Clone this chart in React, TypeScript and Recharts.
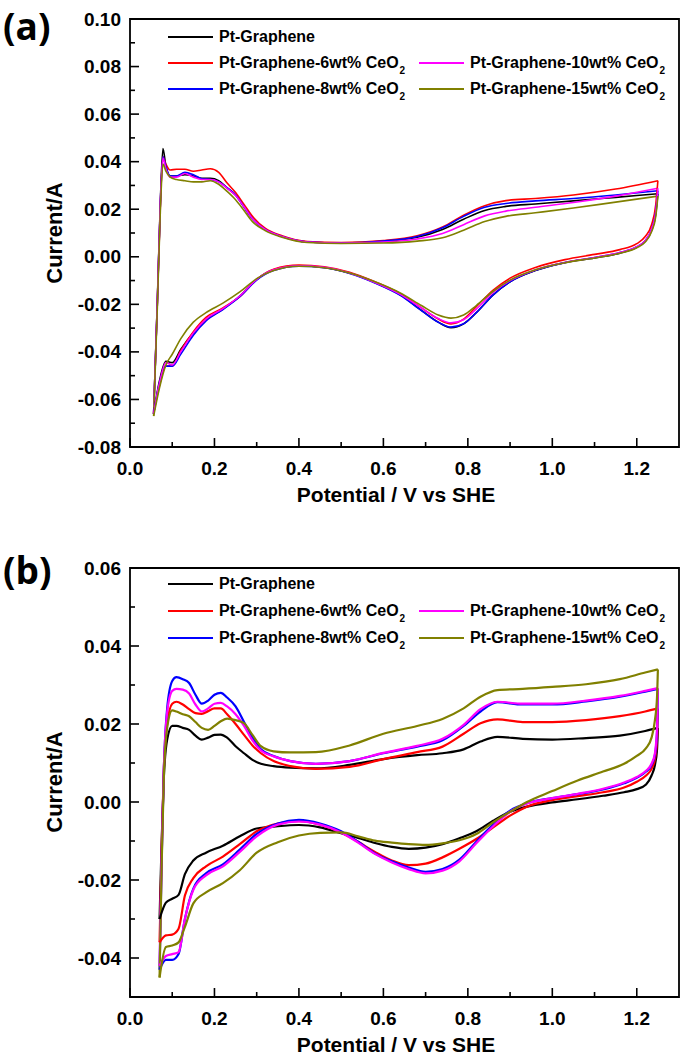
import { LineChart, Line, XAxis, YAxis, ReferenceArea } from "recharts";

const FONT = '"Liberation Sans", Arial, Helvetica, sans-serif';

// axis ticks
const X_MAJOR = [0, 0.2, 0.4, 0.6, 0.8, 1.0, 1.2];
const X_MINOR = [0.1, 0.3, 0.5, 0.7, 0.9, 1.1];
const A_Y_MAJOR = [-0.08, -0.06, -0.04, -0.02, 0, 0.02, 0.04, 0.06, 0.08, 0.1];
const A_Y_MINOR = [-0.07, -0.05, -0.03, -0.01, 0.01, 0.03, 0.05, 0.07, 0.09];
const B_Y_MAJOR = [-0.04, -0.02, 0, 0.02, 0.04, 0.06];
const B_Y_MINOR = [-0.03, -0.01, 0.01, 0.03, 0.05];

const NAMES = [
  "Pt-Graphene",
  "Pt-Graphene-6wt% CeO",
  "Pt-Graphene-8wt% CeO",
  "Pt-Graphene-10wt% CeO",
  "Pt-Graphene-15wt% CeO",
];
const COLORS = ["#000000", "#ff0000", "#0000ff", "#ff00ff", "#808000"];

// ---- panel (a): anodic sweep potentials (V) ----
const A_V_FWD = [0.056, 0.065, 0.072, 0.078, 0.085, 0.095, 0.11, 0.13, 0.15, 0.17, 0.19, 0.21, 0.23, 0.25, 0.27, 0.29, 0.32, 0.36, 0.42, 0.5, 0.6, 0.68, 0.74, 0.79, 0.84, 0.89, 0.96, 1.05, 1.15, 1.25];
const A_PT_FWD = [-0.066, -0.017, 0.024, 0.0455, 0.038, 0.034, 0.034, 0.0345, 0.034, 0.033, 0.033, 0.032, 0.029, 0.026, 0.021, 0.016, 0.0115, 0.0085, 0.0062, 0.0058, 0.0065, 0.0082, 0.0115, 0.0158, 0.0195, 0.0212, 0.0222, 0.0235, 0.025, 0.0265];
const A_6_FWD = [-0.066, -0.018, 0.022, 0.042, 0.039, 0.0365, 0.0368, 0.0368, 0.036, 0.0365, 0.037, 0.0355, 0.031, 0.027, 0.022, 0.017, 0.012, 0.0088, 0.0064, 0.006, 0.0068, 0.0088, 0.0125, 0.0175, 0.0215, 0.0236, 0.0245, 0.026, 0.0285, 0.032];
const A_8_FWD = [-0.066, -0.018, 0.023, 0.042, 0.038, 0.034, 0.034, 0.0355, 0.0345, 0.0328, 0.0325, 0.0315, 0.029, 0.026, 0.021, 0.016, 0.0115, 0.0085, 0.0062, 0.0058, 0.0066, 0.0085, 0.0122, 0.017, 0.0208, 0.0224, 0.0235, 0.0245, 0.026, 0.0278];
const A_10_FWD = [-0.066, -0.018, 0.023, 0.0415, 0.037, 0.0335, 0.0335, 0.035, 0.0335, 0.0325, 0.0325, 0.0315, 0.0288, 0.0258, 0.021, 0.016, 0.0115, 0.0085, 0.0062, 0.0058, 0.0062, 0.0075, 0.0098, 0.0135, 0.0172, 0.0192, 0.0208, 0.0228, 0.0255, 0.0288];
const A_15_FWD = [-0.067, -0.02, 0.02, 0.039, 0.036, 0.0335, 0.0325, 0.032, 0.0315, 0.0315, 0.032, 0.0305, 0.0275, 0.024, 0.0195, 0.0148, 0.011, 0.0082, 0.006, 0.0056, 0.0058, 0.0066, 0.008, 0.0112, 0.0148, 0.017, 0.0185, 0.0205, 0.023, 0.0255];

// ---- panel (a): cathodic sweep ----
const A_V_BWD = [1.25, 1.245, 1.235, 1.22, 1.2, 1.16, 1.1, 1.03, 0.96, 0.9, 0.86, 0.82, 0.79, 0.76, 0.73, 0.69, 0.64, 0.58, 0.52, 0.46, 0.4, 0.34, 0.3, 0.26, 0.22, 0.18, 0.15, 0.12, 0.1, 0.085, 0.07, 0.056];
const A_PT_BWD = [0.0265, 0.018, 0.011, 0.0065, 0.004, 0.0015, -0.0005, -0.0025, -0.0058, -0.0105, -0.016, -0.0235, -0.0282, -0.0298, -0.0275, -0.0225, -0.016, -0.0108, -0.0068, -0.0045, -0.0038, -0.0055, -0.0095, -0.0165, -0.022, -0.0265, -0.032, -0.039, -0.0445, -0.044, -0.052, -0.066];
const A_6_BWD = [0.032, 0.022, 0.0135, 0.0085, 0.0055, 0.003, 0.001, -0.0012, -0.0045, -0.009, -0.014, -0.021, -0.0262, -0.0282, -0.0262, -0.0215, -0.0155, -0.0105, -0.0065, -0.0042, -0.0035, -0.0052, -0.0095, -0.0168, -0.0215, -0.0255, -0.0315, -0.0395, -0.046, -0.046, -0.054, -0.066];
const A_8_BWD = [0.0278, 0.019, 0.0115, 0.0068, 0.0042, 0.0018, -0.0003, -0.0024, -0.0057, -0.0105, -0.016, -0.0235, -0.0282, -0.0296, -0.0275, -0.0226, -0.0162, -0.011, -0.007, -0.0046, -0.004, -0.0058, -0.0098, -0.0168, -0.0222, -0.027, -0.033, -0.041, -0.046, -0.046, -0.053, -0.066];
const A_10_BWD = [0.0288, 0.019, 0.0115, 0.0068, 0.0042, 0.0018, -0.0003, -0.0024, -0.0055, -0.01, -0.015, -0.022, -0.0265, -0.0278, -0.026, -0.0215, -0.0158, -0.0108, -0.0068, -0.0044, -0.0038, -0.0055, -0.0095, -0.0165, -0.0218, -0.0262, -0.032, -0.04, -0.0455, -0.0445, -0.053, -0.066];
const A_15_BWD = [0.0255, 0.017, 0.0105, 0.0062, 0.0038, 0.0015, -0.0005, -0.0025, -0.0055, -0.0098, -0.0145, -0.0205, -0.0245, -0.0258, -0.0245, -0.0205, -0.0152, -0.0105, -0.0068, -0.0046, -0.004, -0.0058, -0.0092, -0.0148, -0.0195, -0.0235, -0.0275, -0.0345, -0.041, -0.0455, -0.055, -0.067];

// ---- panel (b): anodic sweep ----
const B_V_FWD = [0.07, 0.075, 0.08, 0.088, 0.1, 0.11, 0.125, 0.14, 0.155, 0.17, 0.185, 0.2, 0.215, 0.23, 0.25, 0.27, 0.29, 0.31, 0.34, 0.38, 0.44, 0.52, 0.6, 0.68, 0.74, 0.79, 0.83, 0.87, 0.93, 1.0, 1.08, 1.16, 1.22, 1.25];
const B_PT_FWD = [-0.03, -0.01, 0.006, 0.016, 0.0195, 0.0195, 0.019, 0.0185, 0.017, 0.016, 0.0165, 0.0172, 0.0173, 0.0165, 0.0143, 0.0125, 0.0108, 0.0098, 0.0092, 0.0088, 0.0086, 0.0095, 0.011, 0.012, 0.0125, 0.0135, 0.0155, 0.0167, 0.0162, 0.016, 0.0164, 0.017, 0.0182, 0.019];
const B_6_FWD = [-0.036, -0.012, 0.008, 0.02, 0.0252, 0.0257, 0.025, 0.0238, 0.0228, 0.0226, 0.0233, 0.024, 0.024, 0.0225, 0.02, 0.0172, 0.0145, 0.0125, 0.0105, 0.0092, 0.0085, 0.009, 0.011, 0.0128, 0.0142, 0.0175, 0.0202, 0.0212, 0.0205, 0.0205, 0.021, 0.022, 0.0232, 0.024];
const B_8_FWD = [-0.043, -0.015, 0.008, 0.024, 0.031, 0.032, 0.0315, 0.0305, 0.0275, 0.0252, 0.026, 0.0275, 0.028, 0.0268, 0.0245, 0.0205, 0.0165, 0.0135, 0.0118, 0.0105, 0.0098, 0.0105, 0.0125, 0.0142, 0.0158, 0.0195, 0.0232, 0.0256, 0.025, 0.025, 0.0258, 0.027, 0.0283, 0.029];
const B_10_FWD = [-0.042, -0.014, 0.008, 0.023, 0.0285, 0.029, 0.0288, 0.0278, 0.025, 0.0232, 0.024, 0.0252, 0.0254, 0.0245, 0.0225, 0.0195, 0.0158, 0.0132, 0.0117, 0.0105, 0.0098, 0.0105, 0.0126, 0.0144, 0.0162, 0.0198, 0.0238, 0.0257, 0.0252, 0.0252, 0.026, 0.0272, 0.0285, 0.0292];
const B_15_FWD = [-0.045, -0.016, 0.006, 0.019, 0.0235, 0.0232, 0.0225, 0.022, 0.0205, 0.019, 0.0185, 0.0195, 0.0207, 0.0214, 0.021, 0.0202, 0.0172, 0.0143, 0.013, 0.0127, 0.0128, 0.0145, 0.0175, 0.0195, 0.0213, 0.024, 0.027, 0.0287, 0.029, 0.0295, 0.0302, 0.0315, 0.0332, 0.034];

// ---- panel (b): cathodic sweep ----
const B_V_BWD = [1.25, 1.248, 1.243, 1.235, 1.222, 1.2, 1.17, 1.12, 1.06, 1.0, 0.94, 0.9, 0.86, 0.82, 0.78, 0.74, 0.7, 0.66, 0.62, 0.58, 0.54, 0.5, 0.45, 0.4, 0.35, 0.3, 0.26, 0.22, 0.18, 0.15, 0.13, 0.115, 0.1, 0.085, 0.07];
const B_PT_BWD = [0.019, 0.0135, 0.0095, 0.0068, 0.0045, 0.0033, 0.0025, 0.0016, 0.0007, -0.0001, -0.0012, -0.0025, -0.0048, -0.0075, -0.0093, -0.0108, -0.0117, -0.012, -0.0115, -0.0105, -0.0092, -0.008, -0.0065, -0.0059, -0.0062, -0.0068, -0.0088, -0.0112, -0.013, -0.015, -0.0185, -0.0238, -0.0248, -0.0258, -0.03];
const B_6_BWD = [0.024, 0.016, 0.011, 0.0085, 0.0068, 0.0052, 0.0037, 0.0025, 0.0015, 0.0005, -0.0012, -0.0035, -0.0065, -0.0095, -0.012, -0.0142, -0.0158, -0.0162, -0.015, -0.0128, -0.0102, -0.0078, -0.0058, -0.0049, -0.0055, -0.0075, -0.0108, -0.014, -0.0165, -0.0195, -0.024, -0.0325, -0.034, -0.0342, -0.036];
const B_8_BWD = [0.029, 0.018, 0.012, 0.0095, 0.0078, 0.0062, 0.0048, 0.0032, 0.002, 0.001, -0.0003, -0.0022, -0.0058, -0.0102, -0.0148, -0.0172, -0.0179, -0.0168, -0.0152, -0.0132, -0.0102, -0.0075, -0.0055, -0.0046, -0.0055, -0.0082, -0.0122, -0.016, -0.0183, -0.0222, -0.03, -0.039, -0.0405, -0.0405, -0.043];
const B_10_BWD = [0.0292, 0.019, 0.0125, 0.0098, 0.008, 0.0064, 0.005, 0.0034, 0.0021, 0.001, -0.0004, -0.0025, -0.0062, -0.0106, -0.0152, -0.0176, -0.0183, -0.0172, -0.0155, -0.0133, -0.0104, -0.0078, -0.0058, -0.005, -0.0058, -0.0088, -0.0128, -0.0165, -0.0188, -0.0225, -0.03, -0.0385, -0.039, -0.0395, -0.042];
const B_15_BWD = [0.034, 0.027, 0.021, 0.0165, 0.0138, 0.0118, 0.0098, 0.0078, 0.0055, 0.0028, 0.0, -0.0025, -0.0052, -0.0082, -0.0098, -0.0106, -0.011, -0.0108, -0.0104, -0.0099, -0.0088, -0.0078, -0.0079, -0.0086, -0.0103, -0.013, -0.0175, -0.0208, -0.0232, -0.026, -0.032, -0.036, -0.0368, -0.0372, -0.045];

const sweep = (v: number[], i: number[]) => v.map((x, k) => ({ v: x, i: i[k] }));

function XTick(props: any) {
  const { x, y, payload } = props;
  const major = X_MAJOR.includes(payload.value);
  return (
    <g>
      <line x1={x} x2={x} y1={y} y2={y - (major ? 9 : 5)} stroke="#000" strokeWidth={1.6} />
      {major && (
        <text x={x} y={y + 21} textAnchor="middle" dominantBaseline="central" fontFamily={FONT} fontWeight={700} fontSize={19} fill="#000">
          {payload.value.toFixed(1)}
        </text>
      )}
    </g>
  );
}

const makeYTick = (majors: number[]) => (props: any) => {
  const { x, y, payload } = props;
  const major = majors.includes(payload.value);
  return (
    <g>
      <line x1={x} x2={x + (major ? 9 : 5)} y1={y} y2={y} stroke="#000" strokeWidth={1.6} />
      {major && (
        <text x={x - 9} y={y} textAnchor="end" dominantBaseline="central" fontFamily={FONT} fontWeight={700} fontSize={19} fill="#000">
          {payload.value.toFixed(2)}
        </text>
      )}
    </g>
  );
};

interface PanelProps {
  top: number;
  height: number;
  marginTop: number;
  xAxisHeight: number;
  yDomain: [number, number];
  yMajor: number[];
  yMinor: number[];
  vFwd: number[];
  vBwd: number[];
  fwd: number[][];
  bwd: number[][];
  stroke: number;
}

function Panel({ top, height, marginTop, xAxisHeight, yDomain, yMajor, yMinor, vFwd, vBwd, fwd, bwd, stroke }: PanelProps) {
  const yTicks = [...yMajor, ...yMinor].sort((a, b) => a - b);
  const xTicks = [...X_MAJOR, ...X_MINOR].sort((a, b) => a - b);
  return (
    <div style={{ position: "absolute", left: 0, top }}>
      <LineChart width={685} height={height} margin={{ top: marginTop, right: 6, left: 0, bottom: 0 }}>
        <XAxis
          type="number"
          dataKey="v"
          domain={[0, 1.3]}
          allowDataOverflow
          ticks={xTicks}
          interval={0}
          tick={XTick}
          tickLine={false}
          axisLine={false}
          tickSize={0}
          tickMargin={0}
          height={xAxisHeight}
        />
        <YAxis
          type="number"
          domain={yDomain}
          allowDataOverflow
          ticks={yTicks}
          interval={0}
          tick={makeYTick(yMajor)}
          tickLine={false}
          axisLine={false}
          tickSize={0}
          tickMargin={0}
          width={130}
        />
        {fwd.map((s, k) => (
          <Line
            key={`f${k}`}
            data={sweep(vFwd, s)}
            dataKey="i"
            type="monotone"
            stroke={COLORS[k]}
            strokeWidth={stroke}
            dot={false}
            isAnimationActive={false}
          />
        ))}
        {bwd.map((s, k) => (
          <Line
            key={`b${k}`}
            data={sweep(vBwd, s)}
            dataKey="i"
            type="monotone"
            stroke={COLORS[k]}
            strokeWidth={stroke}
            dot={false}
            isAnimationActive={false}
          />
        ))}
        <ReferenceArea x1={0} x2={1.3} y1={yDomain[0]} y2={yDomain[1]} fill="none" stroke="#000" strokeWidth={1.8} ifOverflow="visible" />
      </LineChart>
    </div>
  );
}

// legend slots: [series index, column, row]
const LEGEND_SLOTS = [
  [0, 0, 0],
  [1, 0, 1],
  [3, 1, 1],
  [2, 0, 2],
  [4, 1, 2],
];
const LEGEND_COL_X = [168, 419];

function Legend({ rows, lineW }: { rows: number[]; lineW: number }) {
  return (
    <>
      {LEGEND_SLOTS.map(([s, c, r]) => (
        <div
          key={s}
          style={{
            position: "absolute",
            left: LEGEND_COL_X[c],
            top: rows[r] - 11,
            height: 22,
            display: "flex",
            alignItems: "center",
            whiteSpace: "nowrap",
            fontFamily: FONT,
            fontWeight: 700,
            fontSize: 16,
            color: "#000",
          }}
        >
          <div style={{ width: 45, height: lineW, background: COLORS[s], marginRight: 6 }} />
          <span>
            {NAMES[s]}
            {s > 0 && <span style={{ fontSize: 10, position: "relative", top: 6, marginLeft: 1 }}>2</span>}
          </span>
        </div>
      ))}
    </>
  );
}

function AxisTitles({ xTitleY, yTitleY }: { xTitleY: number; yTitleY: number }) {
  const common = { position: "absolute" as const, fontFamily: FONT, fontWeight: 700, color: "#000", textAlign: "center" as const, height: 26, lineHeight: "26px", whiteSpace: "nowrap" as const };
  return (
    <>
      <div style={{ ...common, fontSize: 21, left: 246, width: 300, top: xTitleY - 13 }}>Potential / V vs SHE</div>
      <div style={{ ...common, fontSize: 22, left: 55 - 100, width: 200, top: yTitleY - 13, transform: "rotate(-90deg)" }}>Current/A</div>
    </>
  );
}

function Tag({ text, top }: { text: string; top: number }) {
  return (
    <div style={{ position: "absolute", left: 3, top, fontFamily: '"Open Sans", "Liberation Sans", sans-serif', fontWeight: 700, fontSize: 37, lineHeight: "normal", color: "#000" }}>
      {text}
    </div>
  );
}

export default function App() {
  return (
    <div style={{ position: "absolute", left: 0, top: 0, width: 685, height: 1056, background: "#fff", overflow: "hidden" }}>
      <Panel
        top={0}
        height={520}
        marginTop={19}
        xAxisHeight={73}
        yDomain={[-0.08, 0.1]}
        yMajor={A_Y_MAJOR}
        yMinor={A_Y_MINOR}
        vFwd={A_V_FWD}
        vBwd={A_V_BWD}
        fwd={[A_PT_FWD, A_6_FWD, A_8_FWD, A_10_FWD, A_15_FWD]}
        bwd={[A_PT_BWD, A_6_BWD, A_8_BWD, A_10_BWD, A_15_BWD]}
        stroke={1.6}
      />
      <Panel
        top={540}
        height={516}
        marginTop={28}
        xAxisHeight={59}
        yDomain={[-0.05, 0.06]}
        yMajor={B_Y_MAJOR}
        yMinor={B_Y_MINOR}
        vFwd={B_V_FWD}
        vBwd={B_V_BWD}
        fwd={[B_PT_FWD, B_6_FWD, B_8_FWD, B_10_FWD, B_15_FWD]}
        bwd={[B_PT_BWD, B_6_BWD, B_8_BWD, B_10_BWD, B_15_BWD]}
        stroke={2.2}
      />
      <Legend rows={[37, 63, 89]} lineW={1.4} />
      <Legend rows={[584, 611, 638]} lineW={2.6} />
      <AxisTitles xTitleY={495} yTitleY={233} />
      <AxisTitles xTitleY={1045} yTitleY={782} />
      <Tag text="(a)" top={0} />
      <Tag text="(b)" top={544} />
    </div>
  );
}
